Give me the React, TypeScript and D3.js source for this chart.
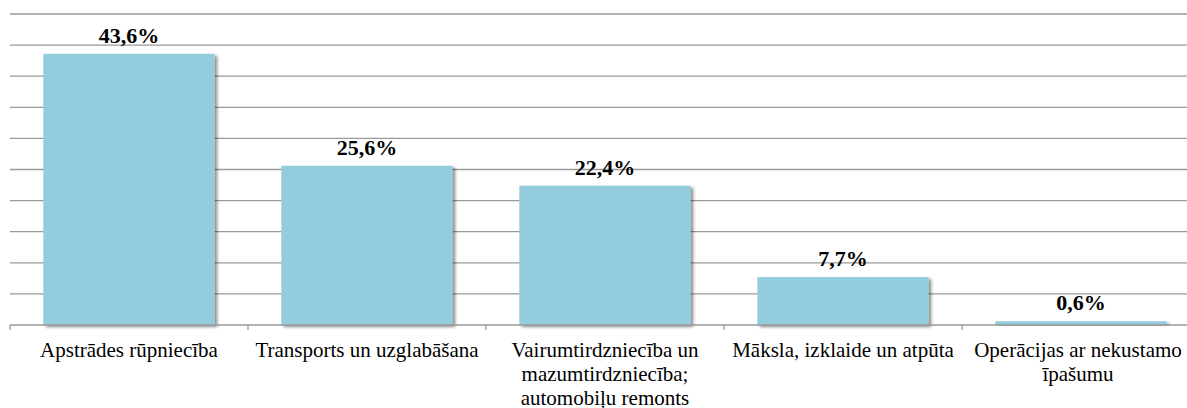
import { useMemo } from "react";
import * as d3 from "d3";

const WIDTH = 1187;
const HEIGHT = 408;

// category labels, already split the way the chart wraps them
const categories = [
  "Apstrādes rūpniecība",
  "Transports un uzglabāšana",
  "Vairumtirdzniecība un mazumtirdzniecība; automobiļu remonts",
  "Māksla, izklaide un atpūta",
  "Operācijas ar nekustamo īpašumu",
];
const categoryLines = [
  ["Apstrādes rūpniecība"],
  ["Transports un uzglabāšana"],
  ["Vairumtirdzniecība un", "mazumtirdzniecība;", "automobiļu remonts"],
  ["Māksla, izklaide un atpūta"],
  ["Operācijas ar nekustamo", "īpašumu"],
];
const shares = [43.6, 25.6, 22.4, 7.7, 0.6];
const gridTicks = [5, 10, 15, 20, 25, 30, 35, 40, 45, 50];

const LEFT = 10;
const RIGHT = 1200; // plot runs a little past the window edge
const TOP = 14;
const BASE = 325;
const SERIF = "'Liberation Serif', 'Times New Roman', serif";

const fmt = (v) => v.toFixed(1).replace(".", ",") + "%";

export default function App() {
  const x = useMemo(
    () =>
      d3.scaleBand().domain(categories).range([LEFT, RIGHT]).paddingInner(0.28).paddingOuter(0.14),
    []
  );
  const xTicks = useMemo(() => d3.scaleBand().domain(categories).range([LEFT, RIGHT]).padding(0), []);
  const y = useMemo(() => d3.scaleLinear().domain([0, 50]).range([BASE, TOP]), []);

  const boundaries = [...categories.map((c) => xTicks(c)), RIGHT];

  return (
    <svg
      width={WIDTH}
      height={HEIGHT}
      style={{ position: "absolute", left: 0, top: 0, display: "block", background: "#fff" }}
    >
      <defs>
        <filter id="shadow" x="-10%" y="-10%" width="130%" height="130%">
          <feDropShadow dx="2.5" dy="2" stdDeviation="1.8" floodColor="#000" floodOpacity="0.45" />
        </filter>
      </defs>

      {gridTicks.map((t) => (
        <line key={t} x1={LEFT} x2={RIGHT} y1={y(t)} y2={y(t)} stroke="#9a9a9a" strokeWidth={1.3} />
      ))}

      {shares.map((v, i) => (
        <rect
          key={i}
          x={x(categories[i])}
          y={y(v)}
          width={x.bandwidth()}
          height={BASE - y(v)}
          fill="#93CDDD"
          filter="url(#shadow)"
        />
      ))}

      <line x1={LEFT} x2={RIGHT} y1={BASE} y2={BASE} stroke="#9a9a9a" strokeWidth={1.3} />
      {boundaries.map((b, i) => (
        <line key={i} x1={b} x2={b} y1={BASE} y2={BASE + 5} stroke="#9a9a9a" strokeWidth={1.3} />
      ))}

      {shares.map((v, i) => (
        <text
          key={i}
          x={x(categories[i]) + x.bandwidth() / 2}
          y={y(v) - 11}
          textAnchor="middle"
          fontFamily={SERIF}
          fontWeight="bold"
          fontSize={22}
          fill="#000"
        >
          {fmt(v)}
        </text>
      ))}

      {categoryLines.map((lines, i) => {
        const cx = xTicks(categories[i]) + xTicks.bandwidth() / 2 - (i === 4 ? 3 : 0);
        return (
          <text key={i} x={cx} y={357} textAnchor="middle" fontFamily={SERIF} fontSize={21} fill="#000">
            {lines.map((l, j) => (
              <tspan key={j} x={cx} dy={j === 0 ? 0 : 24}>
                {l}
              </tspan>
            ))}
          </text>
        );
      })}
    </svg>
  );
}
